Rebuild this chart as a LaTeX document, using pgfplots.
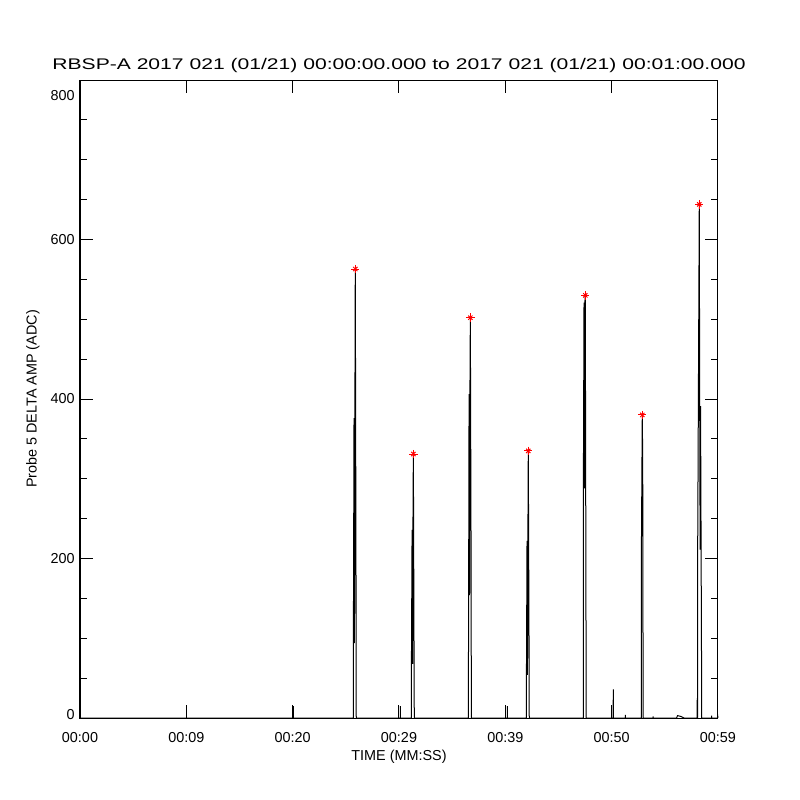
\documentclass[border=0pt]{standalone}
\usepackage{fontspec}
\setmainfont{Liberation Sans}
\newfontfamily\titlefont[FakeStretch=1.37]{Liberation Sans}
\usepackage{pgfplots}
\pgfplotsset{compat=1.18}
\begin{document}
\begin{tikzpicture}[x=1pt,y=1pt]
\fill[white] (0,0) rectangle (400,400);
\begin{axis}[
  at={(40pt,41pt)}, anchor=south west,
  scale only axis, width=319pt, height=319pt,
  xmin=0, xmax=60, ymin=0, ymax=800,
  axis line style={line width=0.5pt},
  every tick/.style={black, line width=0.5pt},
  tick align=inside,
  major tick length=6.5pt, minor tick length=3.5pt,
  xtick={0,10,20,30,40,50,60},
  xticklabels={00:00,00:09,00:20,00:29,00:39,00:50,00:59},
  ytick={0,200,400,600,800},
  yticklabels={\raisebox{-0.5pt}[0pt][0pt]{0},200,400,600,\raisebox{-10.2pt}[0pt][0pt]{800}},
  minor y tick num=3,
  font=\fontsize{7.2}{8}\selectfont,
  xticklabel style={anchor=center, yshift=-10pt, font=\fontsize{7.2}{8}\selectfont},
  yticklabel style={anchor=east, inner sep=0pt, xshift=-2.5pt, font=\fontsize{7.2}{8}\selectfont},
  every axis title shift=0pt,
  title={\titlefont\fontsize{7.7}{9}\selectfont RBSP-A 2017 021 (01/21) 00:00:00.000 to 2017 021 (01/21) 00:01:00.000},
  title style={at={(axis description cs:0.5,1.0235)}, anchor=center, inner sep=0pt},
  xlabel={TIME (MM:SS)},
  xlabel style={at={(axis description cs:0.5,-0.0611)}, anchor=center, inner sep=0pt, font=\fontsize{7.2}{8}\selectfont},
  ylabel={Probe 5 DELTA AMP (ADC)},
  ylabel style={at={(axis description cs:-0.0737,0.5)}, anchor=center, inner sep=0pt, font=\fontsize{7.2}{8}\selectfont},
  clip=false,
]
\addplot[black, line width=0.5pt, mark=none] coordinates {
 (0,0) (20.058,0) (20.06,15) (20.062,0)
 (25.70,0) (25.71,94) (25.77,376) (25.81,94) (25.85,376) (25.89,563) (25.97,100) (25.98,0)
 (30.118,0) (30.12,15) (30.122,0)
 (31.16,0) (31.17,68) (31.23,236) (31.27,68) (31.31,236) (31.35,331) (31.43,23) (31.44,0)
 (36.52,0) (36.53,45) (36.59,406) (36.63,154) (36.67,406) (36.71,502) (36.79,154) (36.80,0)
 (40.198,0) (40.20,15) (40.202,0)
 (41.97,0) (41.98,34) (42.04,222) (42.08,54) (42.12,222) (42.16,335) (42.24,54) (42.25,0)
 (47.33,0) (47.34,288) (47.40,521) (47.44,288) (47.48,521) (47.52,530) (47.60,40) (47.61,0)
 (50.148,0) (50.15,36) (50.152,0)
 (51.278,0) (51.28,4) (51.282,0)
 (52.79,0) (52.80,215) (52.85,321) (52.88,380) (52.92,321) (52.96,5) (52.97,0)
 (53.898,0) (53.90,2) (53.902,0)
 (56.10,0) (56.20,3) (56.50,2) (56.80,0)
 (58.04,0) (58.05,25) (58.08,0) (58.09,211) (58.24,644) (58.28,391) (58.32,211) (58.36,391) (58.45,80) (58.46,0)
 (59.398,0) (59.40,3) (59.402,0)
 (59.95,0) (59.97,3) (60,0)
};
\addplot[only marks, mark=+, red, mark size=2.1pt, line width=0.5pt] coordinates {
 (25.89,563) (31.35,331) (36.71,502) (42.16,335) (47.52,530) (52.88,380) (58.24,644)
};
\addplot[only marks, mark=x, red, mark size=1.5pt, line width=0.5pt] coordinates {
 (25.89,563) (31.35,331) (36.71,502) (42.16,335) (47.52,530) (52.88,380) (58.24,644)
};
\end{axis}
\end{tikzpicture}
\end{document}
